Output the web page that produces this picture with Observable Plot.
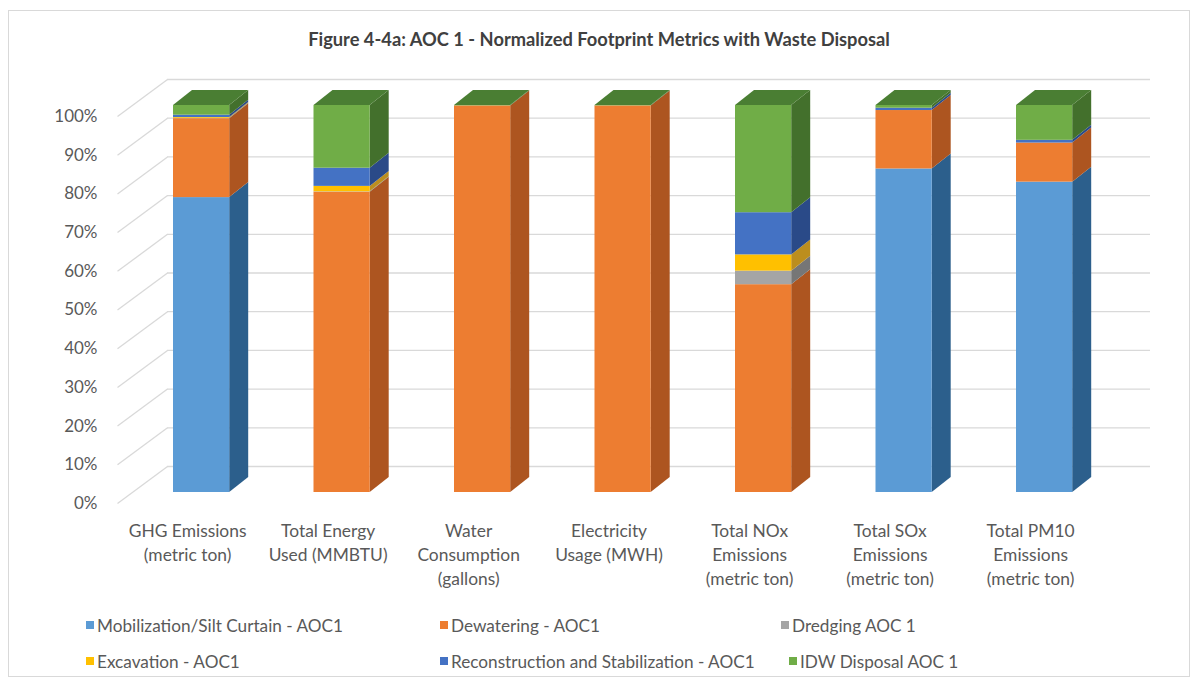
<!DOCTYPE html>
<html>
<head>
<meta charset="utf-8">
<script src="https://cdn.jsdelivr.net/npm/d3@7"></script>
<script src="https://cdn.jsdelivr.net/npm/@observablehq/plot@0.6"></script>
<style>
  body { margin: 0; background: #fff; font-family: Lato, "Open Sans", sans-serif; }
  #chart { position: relative; width: 1196px; height: 678px; overflow: hidden; background: #fff; }
  #frame { position: absolute; left: 8px; top: 10px; width: 1182px; height: 667px; border: 1px solid #d9d9d9; box-sizing: border-box; }
  #title { position: absolute; top: 28px; left: 8px; width: 1182px; text-align: center; font-weight: 700; font-size: 18.3px; color: #404040; }
  #plot { position: absolute; left: 0; top: 60px; }
  #legend { position: absolute; left: 86px; top: 607px; font-size: 17.2px; color: #595959; }
  .row { display: flex; height: 36px; align-items: center; white-space: nowrap; }
  .item { display: flex; align-items: center; }
  .row .item:nth-child(1) { min-width: 354px; }
  .row .item:nth-child(2) { min-width: 341px; }
  .row + .row .item:nth-child(2) { min-width: 349px; }
  .sw { width: 8px; height: 8px; margin-right: 3px; }
</style>
</head>
<body>
<div id="chart">
  <div id="frame"></div>
  <div id="title">Figure 4-4a: AOC 1 - Normalized Footprint Metrics with Waste Disposal</div>
  <div id="plot"></div>
  <div id="legend"></div>
</div>
<script>
// Footprint categories (multi-line axis labels)
const categories = [
  "GHG Emissions\n(metric ton)",
  "Total Energy\nUsed (MMBTU)",
  "Water\nConsumption\n(gallons)",
  "Electricity\nUsage (MWH)",
  "Total NOx\nEmissions\n(metric ton)",
  "Total SOx\nEmissions\n(metric ton)",
  "Total PM10\nEmissions\n(metric ton)"
];

// Remedy components, in stacking order (bottom to top)
const seriesNames = [
  "Mobilization/Silt Curtain - AOC1",
  "Dewatering - AOC1",
  "Dredging AOC 1",
  "Excavation - AOC1",
  "Reconstruction and Stabilization - AOC1",
  "IDW Disposal AOC 1"
];

// Normalized share (%) of each metric per component
const mobilization   = [76.2,  0.0,  0.0,  0.0,  0.0, 83.6, 80.2];
const dewatering     = [20.4, 77.6, 99.9, 99.9, 53.7, 15.1, 10.1];
const dredging       = [ 0.1,  0.1,  0.0,  0.0,  3.5,  0.0,  0.0];
const excavation     = [ 0.2,  1.4,  0.0,  0.0,  4.2,  0.0,  0.0];
const reconstruction = [ 0.6,  4.7,  0.0,  0.0, 10.9,  0.6,  0.7];
const idwDisposal    = [ 2.5, 16.2,  0.1,  0.1, 27.7,  0.7,  9.0];

const yTicks = [0, 10, 20, 30, 40, 50, 60, 70, 80, 90, 100];

// Face colours: front, side (shaded) and top (lit) of each 3-D column
const frontColors = ["#5B9BD5", "#ED7D31", "#A5A5A5", "#FFC000", "#4472C4", "#70AD47"];
const sideColors  = ["#2C5F8C", "#AD5520", "#767676", "#BC8E1E", "#2A4A88", "#43702C"];
const topColors   = ["#3F72A2", "#C0652A", "#8A8A8A", "#D9A400", "#36599E", "#4A7E33"];

const seriesValues = [mobilization, dewatering, dredging, excavation, reconstruction, idwDisposal];

// ---- geometry of the oblique projection -----------------------------------
const W = 1196, H = 540;
const X_RANGE = [173, 1016];           // left edge of first / last column front
const Y_RANGE = [432, 45];             // 0% / 100% on the column fronts
const PXX = (X_RANGE[1] - X_RANGE[0]) / (categories.length - 1);
const PXY = (Y_RANGE[0] - Y_RANGE[1]) / 100;
const BAR_W = 0.4;                     // column width in category units
const DEPTH_DX = 19, DEPTH_DY = 15;    // column depth in pixels (right, up)
const ddx = DEPTH_DX / PXX, ddy = DEPTH_DY / PXY;
const px2x = px => (px - X_RANGE[0]) / PXX;

// stacked segments
const segments = [];
categories.forEach((c, i) => {
  let acc = 0;
  seriesValues.forEach((vals, s) => {
    const v = vals[i];
    if (v > 0) segments.push({i, s, y1: acc, y2: acc + v});
    acc += v;
  });
});

// side faces (one parallelogram per segment)
const sideFaces = segments.flatMap((d, k) => [
  {id: k, x: d.i + BAR_W,       lo: d.y1,       hi: d.y2,       c: sideColors[d.s]},
  {id: k, x: d.i + BAR_W + ddx, lo: d.y1 + ddy, hi: d.y2 + ddy, c: sideColors[d.s]}
]);

// top face of each column (belongs to its uppermost segment)
const topFaces = categories.flatMap((c, i) => {
  const segs = segments.filter(d => d.i === i);
  const t = segs[segs.length - 1];
  return [
    {id: i, y: t.y2,       a: i,       b: i + BAR_W,       c: topColors[t.s]},
    {id: i, y: t.y2 + ddy, a: i + ddx, b: i + BAR_W + ddx, c: topColors[t.s]}
  ];
});

// wall offsets (pixels) for the back wall and the left side wall front edge
const BACK_DY = 26, WALL_FRONT_DY = 11;

const chart = Plot.plot({
  width: W,
  height: H,
  margin: 0,
  x: {type: "linear", domain: [0, categories.length - 1], range: X_RANGE, axis: null},
  y: {type: "linear", domain: [0, 100], range: Y_RANGE, axis: null},
  color: {type: "identity"},
  style: {fontFamily: "Lato, 'Open Sans', sans-serif", background: "transparent"},
  marks: [
    // back-wall gridlines
    Plot.ruleY(yTicks, {y: d => d + BACK_DY / PXY, x1: px2x(167), x2: px2x(1150), stroke: "#d9d9d9", strokeWidth: 1.3}),
    // side-wall gridlines
    Plot.link(yTicks, {
      x1: px2x(117), y1: d => d - WALL_FRONT_DY / PXY,
      x2: px2x(167), y2: d => d + BACK_DY / PXY,
      stroke: "#d9d9d9", strokeWidth: 1.3
    }),
    // value axis labels
    Plot.text(yTicks, {
      x: px2x(97), y: d => d - WALL_FRONT_DY / PXY, text: d => d + "%",
      textAnchor: "end", fontSize: 17, fill: "#595959"
    }),
    // column side faces
    Plot.area(sideFaces, {x1: "x", y1: "lo", y2: "hi", z: "id", fill: "c"}),
    // column fronts
    Plot.rect(segments, {x1: "i", x2: d => d.i + BAR_W, y1: "y1", y2: "y2", fill: d => frontColors[d.s]}),
    // column tops
    Plot.area(topFaces, {y1: "y", x1: "a", x2: "b", z: "id", fill: "c"}),
    // category labels
    Plot.text(categories, {
      x: (d, i) => i + BAR_W / 2, y: 0, dx: -14, dy: 27,
      text: d => d, lineAnchor: "top", lineHeight: 24 / 17.4,
      textAnchor: "middle", fontSize: 17.4, fill: "#595959"
    })
  ]
});
document.getElementById("plot").appendChild(chart);

// legend: three columns, two rows
const legend = document.getElementById("legend");
[[0, 1, 2], [3, 4, 5]].forEach(idx => {
  const row = document.createElement("div");
  row.className = "row";
  idx.forEach(s => {
    const item = document.createElement("div");
    item.className = "item";
    const sw = document.createElement("span");
    sw.className = "sw";
    sw.style.background = frontColors[s];
    const label = document.createElement("span");
    label.textContent = seriesNames[s];
    item.appendChild(sw);
    item.appendChild(label);
    row.appendChild(item);
  });
  legend.appendChild(row);
});
</script>
</body>
</html>
